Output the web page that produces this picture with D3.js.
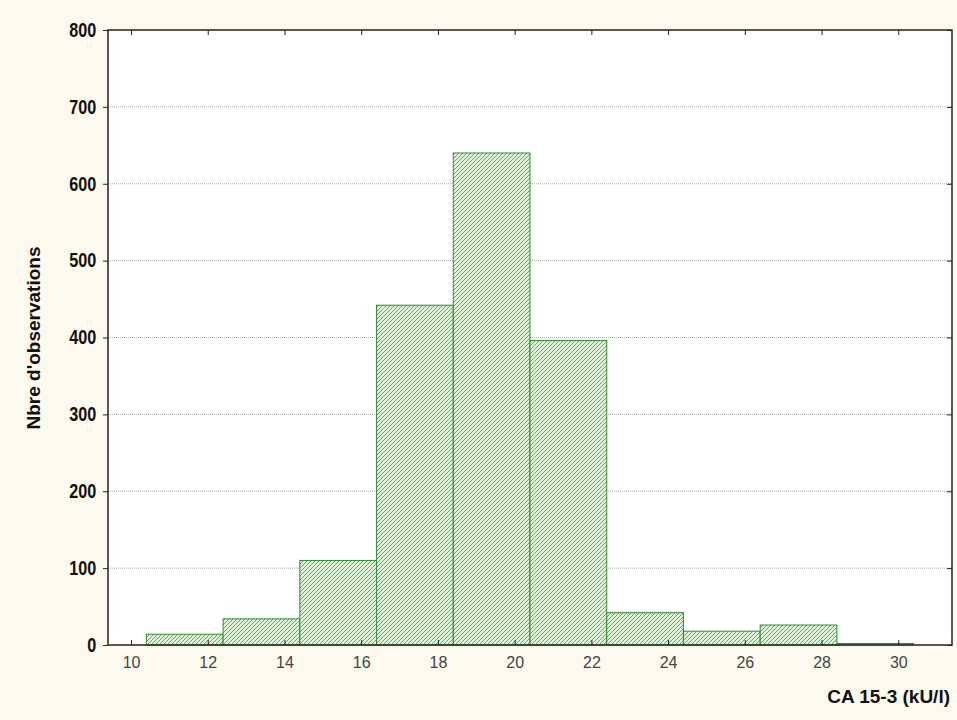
<!DOCTYPE html><html><head><meta charset="utf-8">
<script src="https://cdn.jsdelivr.net/npm/d3@7"></script>
<style>body{margin:0;background:#fcf9ee}</style></head><body>
<svg id="c" width="957" height="720"></svg>
<script>
const binStarts=[10.4,12.4,14.4,16.4,18.4,20.4,22.4,24.4,26.4,28.4];
const binWidth=2;
const counts=[14,34,110,442,640,396,42,18,26,2];
const xTicks=[10,12,14,16,18,20,22,24,26,28,30];
const yTicks=[0,100,200,300,400,500,600,700,800];
const svg=d3.select("#c");
const L=108,R=952,T=30,B=645;
const x=d3.scaleLinear().domain([9.4,31.4]).range([L,R]);
const y=d3.scaleLinear().domain([0,800]).range([B,T]);
const defs=svg.append("defs");
const p=defs.append("pattern").attr("id","h").attr("patternUnits","userSpaceOnUse").attr("width",4).attr("height",4);
p.append("rect").attr("width",4).attr("height",4).attr("fill","#dff3d8");
p.append("path").attr("d","M-1,1 l2,-2 M0,4 l4,-4 M3,5 l2,-2").attr("stroke","#3f9a3f").attr("stroke-width",0.8);
svg.append("rect").attr("x",L).attr("y",T).attr("width",R-L).attr("height",B-T).attr("fill","#fff");
svg.append("g").selectAll("line").data(yTicks.slice(1,-1)).join("line")
 .attr("x1",L).attr("x2",R).attr("y1",d=>y(d)).attr("y2",d=>y(d))
 .attr("stroke","#aaa").attr("stroke-dasharray","1,1");
svg.append("g").selectAll("rect").data(counts).join("rect")
 .attr("x",(d,i)=>x(binStarts[i])).attr("width",(d,i)=>x(binStarts[i]+binWidth)-x(binStarts[i]))
 .attr("y",d=>y(d)).attr("height",d=>B-y(d))
 .attr("fill","url(#h)").attr("stroke","#2e8b2e").attr("stroke-width",1);
svg.append("rect").attr("x",L).attr("y",T).attr("width",R-L).attr("height",B-T).attr("fill","none").attr("stroke","#222").attr("stroke-width",1.5);
const gx=svg.append("g").attr("transform",`translate(0,${B})`).call(d3.axisBottom(x).tickValues(xTicks).tickSize(-5).tickPadding(12));
gx.select(".domain").remove();
gx.selectAll("text").attr("font-family","Liberation Sans, Arial").attr("font-size",16).attr("fill","#444");
svg.append("g").attr("transform",`translate(0,${T})`).call(d3.axisTop(x).tickValues(xTicks).tickSize(-5).tickFormat("")).select(".domain").remove();
const gy=svg.append("g").attr("transform",`translate(${L},0)`).call(d3.axisLeft(y).tickValues(yTicks).tickSize(5).tickPadding(4));
gy.select(".domain").remove();
gy.selectAll("text").attr("font-family","Liberation Sans, Arial").attr("font-size",18).attr("font-weight","bold").attr("fill","#111").attr("transform","scale(0.9,1.1)").attr("dx",-4);
svg.append("g").attr("transform",`translate(${R},0)`).call(d3.axisRight(y).tickValues(yTicks).tickSize(-5).tickFormat("")).select(".domain").remove();
svg.selectAll(".tick line").attr("stroke","#222");
svg.append("text").attr("x",950).attr("y",703).attr("text-anchor","end").attr("font-family","Liberation Sans, Arial").attr("font-weight","bold").attr("font-size",19).attr("fill","#111").text("CA 15-3 (kU/l)");
svg.append("text").attr("transform","translate(40,338) rotate(-90)").attr("text-anchor","middle").attr("font-family","Liberation Sans, Arial").attr("font-weight","bold").attr("font-size",19).attr("fill","#111").text("Nbre d'observations");
</script></body></html>
